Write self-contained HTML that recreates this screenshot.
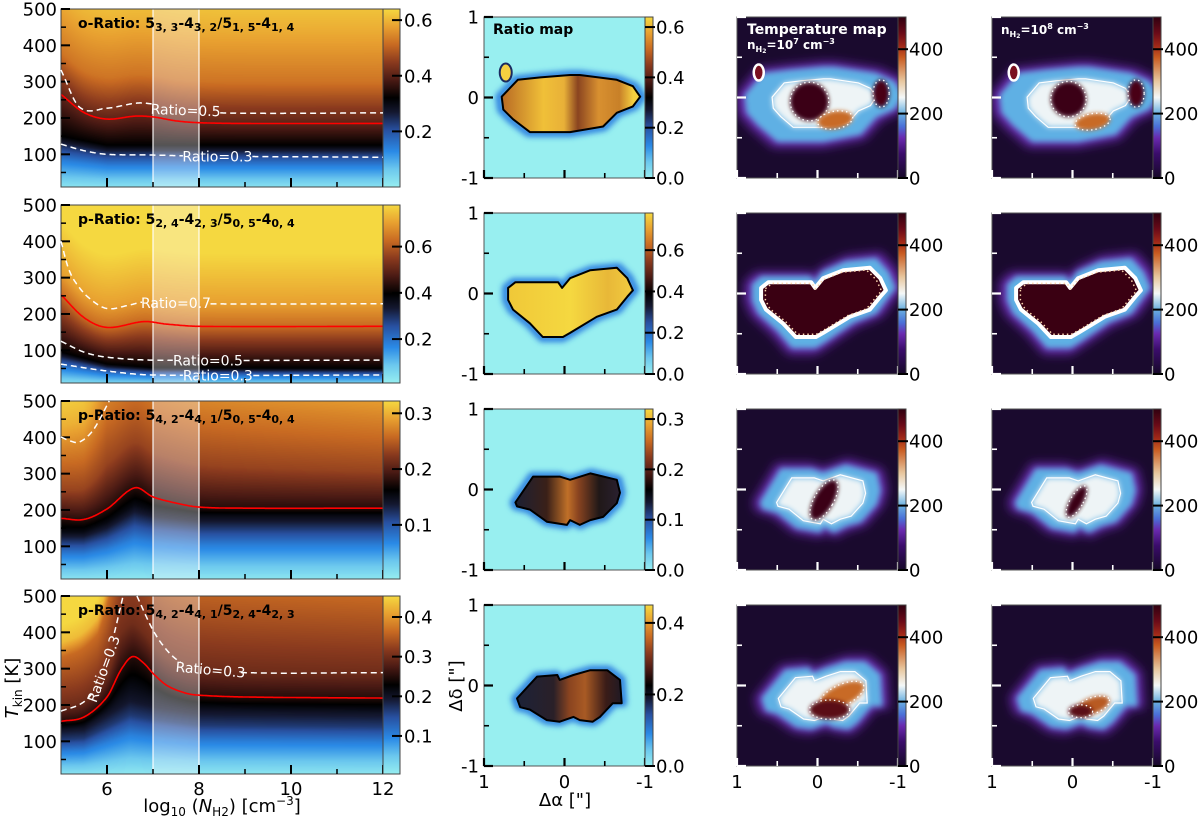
<!DOCTYPE html>
<html><head><meta charset="utf-8">
<style>
body{margin:0;width:1200px;height:822px;position:relative;background:#fff;overflow:hidden;font-family:"DejaVu Sans","Liberation Sans",sans-serif}
canvas{position:absolute}
#fig{position:absolute;left:0;top:0}
</style></head>
<body>
<canvas id="h0" width="322" height="178" style="left:61px;top:9px"></canvas>
<canvas id="h1" width="322" height="178" style="left:61px;top:205px"></canvas>
<canvas id="h2" width="322" height="178" style="left:61px;top:401px"></canvas>
<canvas id="h3" width="322" height="178" style="left:61px;top:596px"></canvas>
<svg id="fig" width="1200" height="822" xmlns="http://www.w3.org/2000/svg">
<defs>
<filter id="b2" x="-30%" y="-30%" width="160%" height="160%"><feGaussianBlur stdDeviation="2"/></filter>
<filter id="b3" x="-30%" y="-30%" width="160%" height="160%"><feGaussianBlur stdDeviation="3"/></filter>
<filter id="b5" x="-30%" y="-30%" width="160%" height="160%"><feGaussianBlur stdDeviation="5"/></filter>
</defs>
</svg>
<script>
// ---------- data: left column (ratio vs log n, T) ----------
const redX=[[5,5.5,6,6.6,7,7.5,8,9,12],[5,5.5,6,6.8,7.3,8,12],[5,5.5,6,6.6,7,7.5,8,9,12],[5,5.5,6,6.3,6.55,6.8,7,7.3,7.7,8,9,12]];
const redT=[[265,215,197,205,203,192,187,185,185],[253,190,163,179,172,166,166],[177,174,203,261,236,219,208,205,205],[155,167,222,296,333,315,287,254,233,227,222,219]];
const blackX=[[5,6,12],[5,6,7,12],[5,5.5,6,6.6,7,8,12],[5,5.5,6,6.5,7,8,12]];
const blackT=[[150,125,125],[95,62,52,50],[140,140,165,215,200,185,185],[130,135,175,215,200,180,175]];
const vBlack=[0.5,0.5,0.47,0.43], vRed=[0.63,0.8,0.55,0.55];
const cRow=[0,0,1,1,1,2,3,3];
const cX=[[5,5.4,6,6.65,7,7.5,8.45,12],[5,5.5,6,7,8,12],[5,5.15,5.3,5.6,6,6.5,6.8,8,12],[5,5.5,6,7,12],[5,6,7,12],[5,5.2,5.4,5.7,6.05],[5,5.5,5.8,6.1,6.35],[6.65,7,7.3,7.6,8,9,12]];
const cT=[[332,230,227,241,238,225,214,214],[128,110,100,98,95,92],[400,330,290,245,215,225,233,228,228],[125,95,81,73,73],[62,43,32,32],[401,390,387,420,500],[183,209,260,370,500],[500,406,351,318,302,289,289]];
const cLab=["Ratio=0.5","Ratio=0.3","Ratio=0.7","Ratio=0.5","Ratio=0.3","","Ratio=0.3","Ratio=0.3"];
const cGap0=[6.97,7.65,6.76,7.43,7.65,0,5.7,7.6];
const cGap1=[8.45,9.15,8.24,8.96,9.17,0,6.15,8.9];
const cRot=[2,0,0,0,0,0,-70,5];
const profD=[[0,115,265,330,450],[0,62,200,330,450],[0,100,250,330,450],[0,70,280,345,420]];
const profV=[[0.63,0.82,0.93,0.97,1],[0.8,0.9,1,1,1],[0.55,0.72,0.85,0.93,1],[0.55,0.66,0.8,0.95,1]];
const upSX=[[5,12],[5,12],[5,5.5,6,6.5,12],[5,5.8,6.3,7,12]];
const upS=[[1,1],[1,1],[1.3,1.2,0.8,0.8,1],[1.6,1.4,0.7,0.9,1]];
const lowF=[0,0.3,0.55,0.8,1];
const lowV=[0.0,0.12,0.22,0.36];
const lcbMin=[0,0.01,0.003,0.004], lcbMax=[0.64,0.78,0.322,0.453];
const lcbTicks=[[0.2,0.4,0.6],[0.2,0.4,0.6],[0.1,0.2,0.3],[0.1,0.2,0.3,0.4]];
const titles=[["o-Ratio: 5","3, 3","-4","3, 2","/5","1, 5","-4","1, 4"],["p-Ratio: 5","2, 4","-4","2, 3","/5","0, 5","-4","0, 4"],["p-Ratio: 5","4, 2","-4","4, 1","/5","0, 5","-4","0, 4"],["p-Ratio: 5","4, 2","-4","4, 1","/5","2, 4","-4","2, 3"]];
const yTickVals=[100,200,300,400,500], xTickMajor=[6,8,10,12], xTickMinor=[7,9,11];
// ---------- data: maps (arcsec) ----------
const blobA=[[0.78,0.58,0.30,-0.07,-0.19,-0.65,-0.85,-0.94,-0.85,-0.65,-0.48,-0.07,0.43,0.64,0.76],
[0.70,0.61,0.08,0.03,-0.07,-0.32,-0.65,-0.78,-0.85,-0.78,-0.65,-0.40,-0.07,0.02,0.27,0.43,0.64,0.70],
[0.61,0.39,0.06,-0.07,-0.32,-0.65,-0.69,-0.65,-0.48,-0.32,-0.19,-0.07,-0.03,0.22,0.43,0.59],
[0.59,0.34,0.09,0.06,-0.11,-0.32,-0.53,-0.69,-0.71,-0.60,-0.44,-0.35,-0.19,-0.11,0.06,0.22,0.43,0.55]];
const blobD=[[0.01,0.22,0.25,0.28,0.28,0.22,0.14,0.01,-0.11,-0.19,-0.36,-0.43,-0.43,-0.27,-0.15],
[0.07,0.14,0.14,0.07,0.19,0.29,0.32,0.19,0.04,-0.04,-0.20,-0.29,-0.49,-0.54,-0.54,-0.37,-0.20,-0.08],
[-0.16,0.16,0.16,0.12,0.20,0.12,-0.04,-0.17,-0.34,-0.38,-0.44,-0.38,-0.44,-0.40,-0.25,-0.21],
[-0.16,0.11,0.13,0.07,0.13,0.19,0.19,0.07,-0.22,-0.22,-0.39,-0.45,-0.43,-0.39,-0.45,-0.43,-0.30,-0.27]];
const blobFill=[[["0","#b86a24"],["0.3","#f0c038"],["0.45","#e8b038"],["0.55","#8a4420"],["0.7","#d89030"],["0.85","#c88028"],["0.95","#f5d040"]],
[["0","#f0c838"],["0.5","#f5d840"],["0.8","#e8b838"],["1","#f2cc40"]],
[["0","#1c2034"],["0.3","#3a2018"],["0.5","#c07028"],["0.6","#8a4420"],["0.8","#201818"],["1","#2a2030"]],
[["0","#1c2238"],["0.35","#2a2028"],["0.5","#8a4420"],["0.65","#a85a24"],["0.85","#3a1c18"],["1","#201a24"]]];
const mcbMax=[0.64,0.78,0.32,0.45];
const mcbTicks=[[0,0.2,0.4,0.6],[0,0.2,0.4,0.6],[0,0.1,0.2,0.3],[0,0.2,0.4]];
const coresC3=[[[0.1,-0.05,0.24,0.24,0,"#3a0012"],[-0.22,-0.28,0.22,0.11,-10,"#c86a28"],[-0.79,0.05,0.1,0.17,0,"#4a0012"]],
[],
[[-0.08,-0.13,0.12,0.28,30,"#3a0012"]],
[[-0.3,-0.12,0.3,0.13,-25,"#c86a28"],[-0.15,-0.3,0.25,0.12,0,"#5a0a16"]]];
const coresC4=[[[0.05,-0.02,0.22,0.22,0,"#3a0012"],[-0.25,-0.3,0.22,0.1,-10,"#c86a28"],[-0.79,0.05,0.1,0.17,0,"#4a0012"]],
[],
[[-0.05,-0.15,0.08,0.22,30,"#3a0012"]],
[[-0.25,-0.25,0.22,0.1,-20,"#b85a24"],[-0.1,-0.32,0.15,0.08,0,"#5a0a16"]]];
const tcbTicks=[0,200,400];

// ---------- layout ----------
const LX0=61,LX1=383,LTOPS=[9,205,401,596],LH=178;
const COLX=[484,737,992],MTOPS=[17,213,409,605],MS=161;
function lx(v){return LX0+(v-5)/7*(LX1-LX0);}
function ly(r,T){return LTOPS[r]+(500-T)/490*LH;}
function mx(c,a){return COLX[c]+(1-a)/2*MS;}
function my(r,d){return MTOPS[r]+(1-d)/2*MS;}

const ratioStops=[[0,"#96eef0"],[0.1,"#6cc8ee"],[0.2,"#2a8ae6"],[0.32,"#2850a0"],[0.42,"#141830"],[0.5,"#000000"],[0.6,"#4a1a14"],[0.7,"#8a3a1e"],[0.8,"#c86a22"],[0.9,"#e8a030"],[1,"#f5d840"]];
const tempStops=[[0,"#160828"],[0.15,"#3a0c6a"],[0.25,"#6a2ab0"],[0.32,"#4a70d8"],[0.4,"#6ab0e0"],[0.5,"#f4f8f8"],[0.6,"#e8c8a0"],[0.75,"#c85a20"],[0.82,"#a02818"],[0.9,"#6a0a18"],[1,"#300010"]];
function hex(h){return [parseInt(h.substr(1,2),16),parseInt(h.substr(3,2),16),parseInt(h.substr(5,2),16)];}
function cmap(stops,v){v=Math.max(0,Math.min(1,v));for(let i=0;i<stops.length-1;i++){if(v<=stops[i+1][0]){const t=(v-stops[i][0])/(stops[i+1][0]-stops[i][0]);const a=hex(stops[i][1]),b=hex(stops[i+1][1]);return [0,1,2].map(k=>Math.round(a[k]+(b[k]-a[k])*t));}}return hex(stops[stops.length-1][1]);}
function lin(xs,ys,x){if(x<=xs[0])return ys[0];for(let i=0;i<xs.length-1;i++){if(x<=xs[i+1]){return ys[i]+(ys[i+1]-ys[i])*(x-xs[i])/(xs[i+1]-xs[i]);}}return ys[ys.length-1];}
function herm(xs,ys,x){const n=xs.length;if(x<=xs[0])return ys[0];if(x>=xs[n-1])return ys[n-1];let i=0;while(x>xs[i+1])i++;
 const m=j=>{if(j==0)return (ys[1]-ys[0])/(xs[1]-xs[0]);if(j==n-1)return (ys[n-1]-ys[n-2])/(xs[n-1]-xs[n-2]);return (ys[j+1]-ys[j-1])/(xs[j+1]-xs[j-1]);};
 const h=xs[i+1]-xs[i],t=(x-xs[i])/h,t2=t*t,t3=t2*t;
 return (2*t3-3*t2+1)*ys[i]+(t3-2*t2+t)*h*m(i)+(-2*t3+3*t2)*ys[i+1]+(t3-t2)*h*m(i+1);}

const NS="http://www.w3.org/2000/svg";const svg=document.getElementById("fig");const defs=svg.querySelector("defs");
function mk(tag,attrs,parent){const e=document.createElementNS(NS,tag);for(const k in attrs)e.setAttribute(k,attrs[k]);(parent||svg).appendChild(e);return e;}
function grad(id,stops,vertical){const g=mk("linearGradient",{id:id,x1:0,y1:vertical?1:0,x2:vertical?0:1,y2:0},defs);stops.forEach(s=>mk("stop",{offset:s[0],"stop-color":s[1]},g));return g;}
grad("gRatio",ratioStops,true);grad("gTemp",tempStops,true);
function txt(x,y,s,attrs,parent){const e=mk("text",Object.assign({x:x,y:y,"font-size":18,fill:"#000"},attrs||{}),parent);e.textContent=s;return e;}

for(let r=0;r<4;r++){
 const cv=document.getElementById("h"+r),ctx=cv.getContext("2d"),img=ctx.createImageData(322,178);
 for(let px=0;px<322;px++){const xv=5+(px+0.5)/322*7;const tr=herm(redX[r],redT[r],xv);const tb=Math.min(lin(blackX[r],blackT[r],xv),tr-5);const s=lin(upSX[r],upS[r],xv);
  for(let py=0;py<178;py++){const T=500-(py+0.5)/178*490;let v;
   if(T>=tr)v=lin(profD[r],profV[r],(T-tr)*s);
   else if(T>=tb)v=vBlack[r]+(vRed[r]-vBlack[r])*(T-tb)/(tr-tb);
   else v=lin(lowF,lowV.concat([vBlack[r]]),T/tb);
   const c=cmap(ratioStops,v);const k=(py*322+px)*4;img.data[k]=c[0];img.data[k+1]=c[1];img.data[k+2]=c[2];img.data[k+3]=255;}}
 ctx.putImageData(img,0,0);
}
for(let r=0;r<4;r++){
 const g=mk("g",{});
 
 
 const band=mk("rect",{x:lx(7),y:LTOPS[r],width:lx(8)-lx(7),height:LH,fill:"#fff","fill-opacity":0.33},g);
 
 
 [7,8].forEach(v=>{const l=mk("line",{x1:lx(v),x2:lx(v),y1:LTOPS[r],y2:LTOPS[r]+LH,stroke:"#fff","stroke-opacity":0.75,"stroke-width":1.5},g);
  
  });
 let d="";for(let x=5;x<=12.0001;x+=0.02){d+=(d?"L":"M")+lx(x).toFixed(1)+","+ly(r,herm(redX[r],redT[r],x)).toFixed(1);}
 const rp=mk("path",{d:d,fill:"none",stroke:"#ff0000","stroke-width":1.6},g);
 
 
 const fr=mk("rect",{x:LX0,y:LTOPS[r],width:LX1-LX0,height:LH,fill:"none",stroke:"#444","stroke-width":1},g);
 
 
 yTickVals.forEach(v=>{const y=ly(r,v);mk("line",{x1:LX0,x2:LX0+9,y1:y,y2:y,stroke:"#000","stroke-width":2},g);
  const t=txt(LX0-4,y+6.5,String(v),{"text-anchor":"end"},g);
  
  });
 [50,150,250,350,450].forEach(v=>{const y=ly(r,v);mk("line",{x1:LX0,x2:LX0+5,y1:y,y2:y,stroke:"#000","stroke-width":1.5},g);});
 const yb=LTOPS[r]+LH;
 xTickMajor.forEach(v=>mk("line",{x1:lx(v),x2:lx(v),y1:yb,y2:yb-9,stroke:"#000","stroke-width":2},g));
 xTickMinor.forEach(v=>mk("line",{x1:lx(v),x2:lx(v),y1:yb,y2:yb-5,stroke:"#000","stroke-width":1.5},g));
 if(r==3){xTickMajor.forEach(v=>{const t=txt(lx(v),yb+21,String(v),{"text-anchor":"middle"},g);
  
  });}
 const tt=titles[r];const te=mk("text",{x:78,y:LTOPS[r]+19,"font-size":14,"font-weight":"bold",fill:"#000"},g);
 
 
 tt.forEach((s,i)=>{const sp=mk("tspan",i%2?{"font-size":11,dy:3}:(i>0?{dy:-3}:{}),te);sp.textContent=s;});
 const cb=mk("rect",{x:LX1,y:LTOPS[r],width:17,height:LH,fill:"url(#gRatio)",stroke:"#444","stroke-width":1},g);
 
 
 lcbTicks[r].forEach(v=>{const y=LTOPS[r]+LH-(v-lcbMin[r])/(lcbMax[r]-lcbMin[r])*LH;mk("line",{x1:LX1+9,x2:LX1+19,y1:y,y2:y,stroke:"#000","stroke-width":2},g);
  const t=txt(LX1+21,y+6.5,v.toFixed(1),{},g);
  
  });
}
for(let i=0;i<cX.length;i++){
 const r=cRow[i],xs=cX[i],ts=cT[i];let d="",pen=false;
 for(let x=xs[0];x<=xs[xs.length-1]+1e-6;x+=0.01){
  const inGap=cLab[i]&&x>cGap0[i]&&x<cGap1[i];
  if(inGap){pen=false;continue;}
  const T=herm(xs,ts,x);if(T>500.5)continue;
  d+=(pen?"L":"M")+lx(x).toFixed(1)+","+ly(r,T).toFixed(1);pen=true;}
 const p=mk("path",{d:d,fill:"none",stroke:"#fff","stroke-width":1.5,"stroke-dasharray":"6,4"});
 
 
 if(cLab[i]){const xm=(cGap0[i]+cGap1[i])/2;const X=lx(xm),Y=ly(r,herm(xs,ts,xm));
  const t=txt(X,Y+5,cLab[i],{"text-anchor":"middle","font-size":14,fill:"#fff",transform:"rotate("+cRot[i]+" "+X+" "+Y+")"});
  
  }
}
const xl=mk("text",{x:222,y:812,"font-size":18,"text-anchor":"middle"});


[["log",{}],["10",{"font-size":12,dy:4}],[" (",{dy:-4}],["N",{"font-style":"italic"}],["H2",{"font-size":12,dy:4}],[") [cm",{dy:-4}],["−3",{"font-size":12,dy:-7}],["]",{dy:7}]].forEach(s=>{const sp=mk("tspan",s[1],xl);sp.textContent=s[0];});
const yl=mk("text",{x:0,y:0,"font-size":18,"text-anchor":"middle",transform:"translate(18,688) rotate(-90)"});


[["T",{"font-style":"italic"}],["kin",{"font-size":12,dy:4}],[" [K]",{dy:-4}]].forEach(s=>{const sp=mk("tspan",s[1],yl);sp.textContent=s[0];});

function pts(c,r,sc,sy){sy=sy||sc;const A=blobA[r],D=blobD[r];let ca=0,cd=0;A.forEach((a,i)=>{ca+=a;cd+=D[i];});ca/=A.length;cd/=A.length;
 return A.map((a,i)=>mx(c,ca+(a-ca)*sc).toFixed(1)+","+my(r,cd+(D[i]-cd)*sy).toFixed(1)).join(" ");}
function clip(id,c,r){const cp=mk("clipPath",{id:id},defs);mk("rect",{x:COLX[c],y:MTOPS[r],width:MS,height:MS},cp);return "url(#"+id+")";}
for(let r=0;r<4;r++){
 const g=mk("g",{"clip-path":clip("cm"+r,0,r)});
 
 
 mk("rect",{x:COLX[0],y:MTOPS[r],width:MS,height:MS,fill:"#98eff0"},g);
 mk("polygon",{points:pts(0,r,1.04),fill:"none",stroke:"#2a7ee0","stroke-width":7,filter:"url(#b3)","stroke-linejoin":"round"},g);
 grad("gb"+r,blobFill[r],false);
 const bl=mk("polygon",{points:pts(0,r,1),fill:"url(#gb"+r+")",stroke:"#000","stroke-width":2,"stroke-linejoin":"round"},g);
 
 
 if(r==0){mk("ellipse",{cx:mx(0,0.73),cy:my(0,0.31),rx:6,ry:9,fill:"#f5d040",stroke:"#1a2a60","stroke-width":2},g);}
 [1,2].forEach(c=>{
  const tg=mk("g",{"clip-path":clip("ct"+r+c,c,r)});
  
  
  mk("rect",{x:COLX[c],y:MTOPS[r],width:MS,height:MS,fill:"#1a0a2e"},tg);
  mk("polygon",{points:pts(c,r,1.2,1.35),fill:"#6a2ab0",stroke:"#6a2ab0","stroke-width":8,filter:"url(#b5)"},tg);
  mk("polygon",{points:pts(c,r,1.12,1.25),fill:"#5eb0e4",stroke:"#5eb0e4","stroke-width":4,filter:"url(#b3)"},tg);
  if(r==1){
   mk("polygon",{points:pts(c,r,1.0),fill:"#3a0012",stroke:"#fff","stroke-width":4,"stroke-linejoin":"round"},tg);
   mk("polygon",{points:pts(c,r,0.93),fill:"none",stroke:"#ffd8b0","stroke-width":1.5,"stroke-dasharray":"1.5,3"},tg);
  }else{
   const ws=r==0?0.75:0.85, wy=r==0?0.85:0.95;
   mk("polygon",{points:pts(c,r,ws,wy),fill:"#eef4f6",filter:"url(#b3)"},tg);
   mk("polygon",{points:pts(c,r,ws,wy),fill:"none",stroke:"#fff","stroke-width":1.2},tg);
  }
  const cores=(c==1?coresC3:coresC4)[r];
  cores.forEach(e=>{const X=mx(c,e[0]),Y=my(r,e[1]);
   const el=mk("ellipse",{cx:X,cy:Y,rx:e[2]*MS/2,ry:e[3]*MS/2,fill:e[5],transform:"rotate("+e[4]+" "+X+" "+Y+")",filter:"url(#b2)"},tg);
   
   
   mk("ellipse",{cx:X,cy:Y,rx:e[2]*MS/2,ry:e[3]*MS/2,fill:"none",stroke:"#fff","stroke-width":1.3,"stroke-dasharray":"1.5,3",transform:"rotate("+e[4]+" "+X+" "+Y+")"},tg);});
  if(r==0){mk("ellipse",{cx:mx(c,0.73),cy:my(0,0.31),rx:5,ry:8,fill:"#7a1020",stroke:"#fff","stroke-width":2.5},tg);}
 });
 for(let c=0;c<3;c++){
  const tc=c==0?"#000":"#fff";
  const fr=mk("rect",{x:COLX[c],y:MTOPS[r],width:MS,height:MS,fill:"none",stroke:"#555","stroke-width":1});
  
  
  [1,0,-1].forEach(v=>{mk("line",{x1:COLX[c],x2:COLX[c]+9,y1:my(r,v),y2:my(r,v),stroke:tc,"stroke-width":2.2});
   mk("line",{x1:mx(c,v),x2:mx(c,v),y1:MTOPS[r]+MS,y2:MTOPS[r]+MS-8,stroke:tc,"stroke-width":2.2});});
  [0.5,-0.5].forEach(v=>{mk("line",{x1:COLX[c],x2:COLX[c]+5,y1:my(r,v),y2:my(r,v),stroke:tc,"stroke-width":1.6});
   mk("line",{x1:mx(c,v),x2:mx(c,v),y1:MTOPS[r]+MS,y2:MTOPS[r]+MS-5,stroke:tc,"stroke-width":1.6});});
  if(c==0){[1,0,-1].forEach(v=>{const t=txt(COLX[0]-5,my(r,v)+6.5,String(v),{"text-anchor":"end"});
   
   });}
  if(r==3){[1,0,-1].forEach(v=>{const t=txt(mx(c,v),MTOPS[3]+MS+22,String(v),{"text-anchor":"middle"});
   
   });}
  const cbx=COLX[c]+MS;
  const cb=mk("rect",{x:cbx,y:MTOPS[r],width:8,height:MS,fill:c==0?"url(#gRatio)":"url(#gTemp)",stroke:"#444","stroke-width":1});
  
  
  const ticks=c==0?mcbTicks[r]:tcbTicks,mxv=c==0?mcbMax[r]:500;
  ticks.forEach(v=>{const y=MTOPS[r]+MS-v/mxv*MS;mk("line",{x1:cbx,x2:cbx+10,y1:y,y2:y,stroke:"#000","stroke-width":2});
   const t=txt(cbx+11,y+6.5,c==0?v.toFixed(1):String(v),{});
   
   });
 }
}
const rt=txt(493,34,"Ratio map",{"font-size":14,"font-weight":"bold"});


const tm=txt(747,34,"Temperature map",{"font-size":14,"font-weight":"bold",fill:"#fff"});


function nlab(x,y,ex,nm){const e=mk("text",{x:x,y:y,"font-size":12,"font-weight":"bold",fill:"#fff"});
 
 
 [["n",{}],["H",{"font-size":8,dy:3}],["2",{"font-size":6,dy:1}],["=10",{dy:-4}],[ex,{"font-size":8,dy:-5}],[" cm",{dy:5}],["−3",{"font-size":8,dy:-5}]].forEach(s=>{const sp=mk("tspan",s[1],e);sp.textContent=s[0];});}
nlab(747,49,"7","density-label-1e7");
nlab(1001,34,"8","density-label-1e8");
const mxl=txt(565,806,"Δα [\"]",{"text-anchor":"middle"});


const myl=txt(0,0,"Δδ [\"]",{"text-anchor":"middle",transform:"translate(462,686) rotate(-90)"});


</script>
</body></html>
